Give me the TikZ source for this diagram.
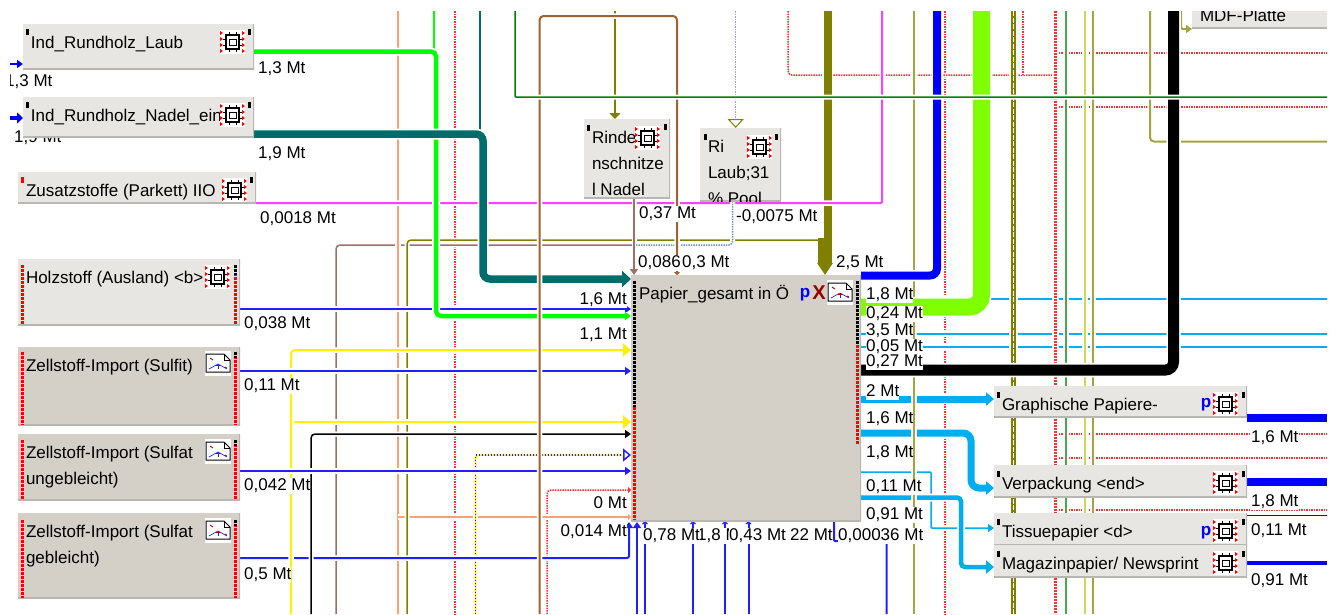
\documentclass[tikz,border=0pt]{standalone}
\usepackage{fontspec}
\setmainfont{Liberation Sans}
\usetikzlibrary{arrows.meta}

\pgfdeclarelayer{flows}
\pgfdeclarelayer{marks}
\pgfsetlayers{flows,marks,main}

\definecolor{boxlight}{HTML}{E8E6E2}
\definecolor{boxdark}{HTML}{D4D0C8}
\definecolor{boxedge}{HTML}{B8B6B0}
\definecolor{flowblue}{HTML}{2020FF}
\definecolor{floworange}{HTML}{FFA070}
\definecolor{flowrosy}{HTML}{A07068}
\definecolor{flowbrown}{HTML}{A0622D}
\definecolor{flowolive}{HTML}{808000}
\definecolor{flowsand}{HTML}{A4A440}
\definecolor{flowpale}{HTML}{D4D45A}
\definecolor{flowgrass}{HTML}{4CA64C}
\definecolor{flowdark}{HTML}{008000}
\definecolor{flowlime}{HTML}{80FF00}
\definecolor{flowpink}{HTML}{FF40FF}
\definecolor{flowred}{HTML}{FF3030}
\definecolor{flowslate}{HTML}{A0A0C8}

\newcommand{\boxtext}[3]{\parbox[c][#2pt][t]{#1pt}{\leftskip=8pt\baselineskip=26pt\vspace*{10.5pt}\strut#3}}

\tikzset{
    flow/.style={line width=#1, rounded corners=4pt, preaction={draw=white, solid, line width=#1+3.5pt, -}},
    reddot/.style={flow=1.5pt, draw=flowred, dash pattern=on 1.5pt off 1pt},
    headS/.style={-{Triangle[length=6pt,width=8pt]}},
    headXS/.style={-{Triangle[length=3pt,width=6pt]}},
    headM/.style={-{Triangle[length=8pt,width=13pt]}},
    headL/.style={-{Triangle[length=9pt,width=16pt]}},
    modelbox/.style={inner sep=0pt, outer sep=0pt, anchor=north west, fill=boxlight,
        path picture={\draw[boxedge, line width=3pt]
            (path picture bounding box.south west) -- (path picture bounding box.south east)
            -- (path picture bounding box.north east);}},
    graphbox/.style={modelbox, fill=boxdark},
    mt/.style={fill=white, inner sep=0pt, text height=12.5pt, text depth=3.5pt, yshift=-1.5pt},
    pinred/.style={draw=red, line width=3pt, dash pattern=on 3pt off 1pt},
    pinblack/.style={draw=black, line width=3pt, dash pattern=on 3pt off 1pt},
    chipicon/.pic={
        \fill[white] (0,0) rectangle (25,24);
        \foreach \y in {3,9,15,21} {
            \fill[red] (0,\y-2) -- (3,\y) -- (0,\y+2) -- cycle;
            \fill[red] (22,\y-2) -- (25,\y) -- (22,\y+2) -- cycle;
        }
        \draw[line width=1.2pt] (6,5) rectangle (19,19);
        \draw[line width=0.9pt] (9,9) rectangle (16,15);
        \foreach \x in {9,16} {
            \draw[line width=1pt] (\x,2) -- (\x,5);
            \draw[line width=1pt] (\x,19) -- (\x,22);
        }
        \foreach \y in {9,15} {
            \draw[line width=1pt] (3,\y) -- (6,\y);
            \draw[line width=1pt] (19,\y) -- (22,\y);
        }
    },
    graphicon/.pic={
        \fill[white] (0,0) rectangle (26,25);
        \draw[line width=1pt] (1,3) -- (19,3) -- (25,9) -- (25,21) -- (1,21) -- cycle;
        \draw[line width=0.7pt] (19,3) -- (19,9) -- (25,9);
        \draw[flowblue, line width=0.7pt] (4,18) -- (13,13) -- (22,18);
        \draw[flowblue, line width=0.7pt] (13,13) -- (13,18);
        \draw[red!70!black, line width=0.9pt] (5,7) -- (8,9);
        \draw[red!70!black, line width=0.9pt] (11,14) -- (15,14);
        \draw[red!70!black, line width=0.9pt] (20,16) -- (22,17);
    },
}

\begin{document}
\begin{tikzpicture}[x=1pt, y=-1pt, font=\fontsize{17}{20}\selectfont]
    \useasboundingbox (0,0) rectangle (1335,614);

    \coordinate (top) at (0,11);
    \coordinate (bottom) at (0,614);
    \coordinate (rim) at (1327,0);
    \coordinate (rimL) at (10,0);

    % Quellen
    \node[modelbox] (bLaub) at (23,24) {\boxtext{231}{45}{Ind\_Rundholz\_Laub}};
    \node[modelbox] (bNadel) at (23,97) {\boxtext{231}{40}{Ind\_Rundholz\_Nadel\_ein}};
    \node[modelbox] (bZusatz) at (18,172) {\boxtext{238}{31}{Zusatzstoffe (Parkett) IIO}};
    \node[modelbox] (bHolz) at (18,259) {\boxtext{222}{66}{Holzstoff (Ausland) <b>}};
    \node[graphbox] (bSulfit) at (18,347) {\boxtext{222}{78}{Zellstoff-Import (Sulfit)}};
    \node[graphbox] (bUngebl) at (18,434) {\boxtext{222}{66}{Zellstoff-Import (Sulfat\\ungebleicht)}};
    \node[graphbox] (bGebl) at (18,513) {\boxtext{222}{85}{Zellstoff-Import (Sulfat\\gebleicht)}};

    % Rinde
    \node[modelbox] (bRinde) at (584,119) {\boxtext{86}{79}{Rinde\\nschnitze\\l Nadel}};
    \begin{scope}
        \clip (700,128) rectangle (781,201);
        \node[modelbox] (bRi) at (700,128) {\boxtext{81}{73}{Ri\\Laub;31\\\% Pool}};
    \end{scope}

    % Papier
    \node[graphbox] (bPapier) at (631,275) {\boxtext{230}{246}{Papier\_gesamt in Ö}};
    \node[inner sep=0pt, text=blue] (pPapier) at (805,295) {\textbf{p}};
    \node[inner sep=0pt, text=red!60!black] (xPapier) at (819,293) {\fontsize{20}{20}\selectfont\textbf{X}};

    % Produkte
    \node[modelbox] (bGraph) at (994,386) {\boxtext{253}{31}{Graphische Papiere-}};
    \node[modelbox] (bVerp) at (994,465) {\boxtext{253}{32}{Verpackung <end>}};
    \node[modelbox] (bTissue) at (994,513) {\boxtext{253}{32}{Tissuepapier <d>}};
    \node[modelbox] (bMagazin) at (994,545) {\boxtext{253}{32}{Magazinpapier/ Newsprint}};
    \node[inner sep=0pt, text=blue] (pGraph) at (1206,405) {\textbf{p}};
    \node[inner sep=0pt, text=blue] (pTissue) at (1206,533) {\textbf{p}};
    \begin{scope}
        \clip (1185,11) rectangle (1327,30);
        \node[modelbox] (bMdf) at (1192,-3) {\boxtext{145}{31}{MDF-Platte}};
    \end{scope}

    % Icons
    \pic at (220,30) {chipicon};
    \pic at (220,103) {chipicon};
    \pic at (222,178) {chipicon};
    \pic at (205,265) {chipicon};
    \pic at (635,126) {chipicon};
    \pic at (747,135) {chipicon};
    \pic at (1213,392) {chipicon};
    \pic at (1213,471) {chipicon};
    \pic at (1213,519) {chipicon};
    \pic at (1213,551) {chipicon};
    \pic at (205,351) {graphicon};
    \pic at (205,439) {graphicon};
    \pic at (205,518) {graphicon};
    \pic at (827,280) {graphicon};

    % Pins
    \foreach \x/\y in {27/32,249/32,27/105,249/105,251/180,588/128,665/127,705/137,776/137,
            998/395,1243/395,998/474,1243/474,998/522,1243/522,998/554,1243/554} {
        \fill (\x-1.5,\y-3) rectangle (\x+1.5,\y+3);
    }
    \fill[red] (20.5,177) rectangle (24,183);
    \foreach \a/\b in {265/325,352/425,440/500,520/598} {
        \draw[pinred] (22.5,\a) -- (22.5,\b);
        \draw[pinred] (235,\a) -- (235,\b);
    }
    \draw[pinblack] (235,265) -- (235,275);
    \foreach \a in {352,440,520} {
        \draw[pinblack] (235,\a) -- (235,\a+6);
    }
    \draw[pinblack] (634,281) -- (634,407);
    \draw[pinred] (634,407) -- (634,520);
    \draw[pinblack] (857,281) -- (857,345);
    \draw[pinred] (857,345) -- (857,445);

    \begin{pgfonlayer}{flows}
        \fill[white] (0,0) rectangle (1335,614);

        % rot gepunktet
        \foreach \x in {455,945} {
            \draw[reddot] (\x,0 |- top) -- (\x,0 |- bottom);
        }
        \foreach \y in {53,107,434,458,510} {
            \draw[reddot] (1056,\y) -- (rim |- 0,\y);
        }
        \draw[reddot] (788,0 |- top) -- (788,75) -- (1056,75);
        \draw[reddot] (1023,0 |- top) -- (1023,75);
        \draw[reddot, headXS] (547,0 |- bottom) -- (547,490) -- (bPapier.west |- 0,490);

        % cyan rechts
        \foreach \y in {299,334,347} {
            \draw[flow=2pt, draw=cyan] (bPapier.east |- 0,\y) -- (rim |- 0,\y);
        }
        \draw[flow=7pt, draw=cyan, headM] (bPapier.east |- 0,399) -- (bGraph.west |- 0,399);
        \draw[flow=7pt, draw=cyan, headM, rounded corners=8pt] (bPapier.east |- 0,433) -- (971,433) -- (971,488) -- (bVerp.west |- 0,488);
        \draw[flow=1.5pt, draw=cyan, headS, rounded corners=1pt] (bPapier.east |- 0,472) -- (931,472) -- (931,528) -- (bTissue.west |- 0,528);
        \draw[flow=4.5pt, draw=cyan, headM] (bPapier.east |- 0,497.5) -- (961,497.5) -- (961,567) -- (bMagazin.west |- 0,567);

        % gerade senkrecht
        \draw[flow=5pt, draw=flowolive] (1013.5,0 |- top) -- (1013.5,0 |- bottom);
        \draw[draw=white, line width=1.5pt, dash pattern=on 5pt off 1.5pt] (1013.5,0 |- top) -- (1013.5,0 |- bottom);
        \draw[flow=3pt, draw=flowred, dash pattern=on 2pt off 1pt] (1055.5,0 |- top) -- (1055.5,0 |- bottom);
        \draw[flow=2pt, draw=flowgrass] (1066,0 |- top) -- (1066,0 |- bottom);
        \draw[flow=2pt, draw=flowpale] (1085,0 |- top) -- (1085,0 |- bottom);
        \draw[flow=2pt, draw=flowsand] (1093,0 |- top) -- (1093,0 |- bottom);
        \draw[flow=2pt, draw=flowsand] (914,0 |- top) -- (914,0 |- bottom);
        \draw[flow=2pt, draw=flowsand] (1150,0 |- top) -- (1150,141.5) -- (rim |- 0,141.5);
        \draw[flow=2pt, draw=flowsand, headS, rounded corners=2pt] (1181,0 |- top) -- (1181,29) -- (bMdf.west |- 0,29);

        % links unten
        \draw[flow=1.5pt, draw=flowrosy] (336,0 |- bottom) -- (336,245) -- (634,245);
        \draw[flow=2pt, draw=floworange] (398,0 |- top) -- (398,0 |- bottom);
        \draw[flow=2pt, draw=floworange, headXS] (398,517) -- (bPapier.west |- 0,517);
        \draw[flow=1.5pt, draw=flowolive] (407,0 |- bottom) -- (407,240) -- (820,240);
        \draw[flow=1.5pt, draw=yellow] (475.5,0 |- bottom) -- (475.5,455) -- (622,455);
        \draw[draw=flowblue, line width=1.5pt, dash pattern=on 1.5pt off 1.5pt, -{Triangle[open,length=8pt,width=13pt]}] (475.5,0 |- bottom) -- (475.5,455) -- (bPapier.west |- 0,455);

        % Olive dick
        \draw[flow=8pt, draw=flowolive] (827.5,0 |- top) -- (827.5,240);
        \draw[draw=flowolive, line width=14pt, -{Triangle[length=12pt,width=15pt]}] (825,238) -- (825,0 |- bPapier.north);

        % magenta
        \draw[flow=2pt, draw=flowpink, rounded corners=1pt] (bZusatz.east |- 0,203) -- (882,203) -- (882,0 |- top);

        % blau und gelb
        \draw[flow=2pt, draw=flowblue, headS, rounded corners=2pt] (bGebl.east |- 0,558) -- (629,558) -- (629,522);
        \draw[flow=2pt, draw=yellow, headM] (291,0 |- bottom) -- (291,350) -- (bPapier.west |- 0,350);
        \draw[flow=2pt, draw=yellow, headM] (294,422) -- (bPapier.west |- 0,422);
        \draw[flow=1.5pt, draw=black, headS] (311,0 |- bottom) -- (311,434) -- (bPapier.west |- 0,434);
        \draw[flow=2pt, draw=flowblue, headS] (bHolz.east |- 0,309) -- (bPapier.west |- 0,309);
        \draw[flow=2pt, draw=flowblue, headS] (bSulfit.east |- 0,371) -- (bPapier.west |- 0,371);
        \draw[flow=2pt, draw=flowblue, headS] (bUngebl.east |- 0,471) -- (bPapier.west |- 0,471);
        \foreach \x in {645,693,725,748.5} {
            \draw[flow=2pt, draw=flowblue, headXS] (\x,0 |- bottom) -- (\x,0 |- bPapier.south);
        }
        \draw[flow=2pt, draw=flowblue, headS] (637,0 |- bottom) -- (637,522);
        \draw[flow=2pt, draw=flowblue, rounded corners=1pt] (886.5,0 |- bottom) -- (886.5,541) -- (834,541) -- (834,0 |- bPapier.south);

        % Eingaenge links
        \draw[flow=2.5pt, draw=blue, headS] (rimL |- 0,64) -- (bLaub.west |- 0,64);
        \draw[flow=4pt, draw=blue, -{Triangle[length=6pt,width=11pt]}] (rimL |- 0,118) -- (bNadel.west |- 0,118);

        % Rundholz
        \draw[flow=1.5pt, draw=green] (434,0 |- top) -- (434,50);
        \draw[flow=4.5pt, draw=green, headS, rounded corners=5pt] (bLaub.east |- 0,51.5) -- (436,51.5) -- (436,316) -- (bPapier.west |- 0,316);
        \draw[flow=1.5pt, draw=teal!85!black] (480,0 |- top) -- (480,132);
        \draw[flow=7.5pt, draw=teal!85!black, headL, rounded corners=7pt] (bNadel.east |- 0,134) -- (483,134) -- (483,279) -- (bPapier.west |- 0,279);

        % Rinde
        \draw[flow=1.5pt, draw=flowolive, -{Triangle[length=6pt,width=11pt]}] (615,0 |- top) -- (615,0 |- bRinde.north);
        \draw[flow=1.5pt, draw=flowrosy, headS] (634,0 |- bRinde.south) -- (634,0 |- bPapier.north);
        \draw[flow=1.5pt, draw=flowslate, dash pattern=on 1.5pt off 1pt] (735.7,0 |- top) -- (735.7,120);
        \draw[draw=flowolive, line width=1pt, -{Triangle[open,length=9pt,width=16pt]}] (735.7,119) -- (735.7,0 |- bRi.north);
        \draw[flow=1.5pt, draw=flowslate!70!teal, dash pattern=on 1.5pt off 1pt] (732.7,0 |- bRi.south) -- (732.7,245) -- (636,245);
        \draw[flow=2pt, draw=flowbrown, headXS] (539.5,0 |- bottom) -- (539.5,16) -- (677,16) -- (677,0 |- bPapier.north);

        % dicke Leitungen
        \draw[flow=8pt, draw=blue, rounded corners=7pt] (937,0 |- top) -- (937,275.5) -- (bPapier.east |- 0,275.5);
        \draw[flow=17pt, draw=flowlime, rounded corners=12pt] (981.5,0 |- top) -- (981.5,307) -- (bPapier.east |- 0,307);
        \draw[flow=11pt, draw=black, rounded corners=8pt] (1173.5,0 |- top) -- (1173.5,370) -- (bPapier.east |- 0,370);

        % Ausgaenge
        \draw[flow=8pt, draw=blue] (bGraph.east |- 0,418) -- (rim |- 0,418);
        \draw[flow=8pt, draw=blue] (bVerp.east |- 0,482) -- (rim |- 0,482);
        \draw[flow=1.5pt, draw=blue] (bTissue.east |- 0,515.5) -- (rim |- 0,515.5);
        \draw[flow=4.5pt, draw=blue] (bMagazin.east |- 0,563) -- (rim |- 0,563);

        % gruen oben
        \draw[flow=1.5pt, draw=flowdark, rounded corners=1pt] (515,0 |- top) -- (515,97) -- (rim |- 0,97);
    \end{pgfonlayer}

    \begin{pgfonlayer}{marks}
        \begin{scope}
            \clip (10,60) rectangle (100,100);
            \node[mt, anchor=west] (mRand) at (5,80) {1,3 Mt};
        \end{scope}
        \node[mt, anchor=west] (mRandB) at (14,136) {1,9 Mt};
        \node[mt, anchor=west] (mLaub) at (258,67) {1,3 Mt};
        \node[mt, anchor=west] (mNadel) at (258,152) {1,9 Mt};
        \node[mt, anchor=west] (mZusatz) at (260,217) {0,0018 Mt};
        \node[mt, anchor=west] (mHolz) at (244,322) {0,038 Mt};
        \node[mt, anchor=west] (mSulfit) at (244,384) {0,11 Mt};
        \node[mt, anchor=west] (mUngebl) at (244,484) {0,042 Mt};
        \node[mt, anchor=west] (mGebl) at (244,573) {0,5 Mt};
        \node[mt, anchor=east] (mInA) at (627,298) {1,6 Mt};
        \node[mt, anchor=east] (mInB) at (627,333) {1,1 Mt};
        \node[mt, anchor=east] (mInC) at (627,502) {0 Mt};
        \node[mt, anchor=east] (mInD) at (627,530) {0,014 Mt};
        \node[mt, anchor=west] (mRinde) at (639,212) {0,37 Mt};
        \node[mt, anchor=west] (mRi) at (736,215) {-0,0075 Mt};
        \node[mt, anchor=west] (mTopA) at (638,261) {0,086};
        \node[mt, anchor=west] (mTopB) at (682,261) {0,3 Mt};
        \node[mt, anchor=west] (mTopC) at (836,261) {2,5 Mt};
        \node[mt, anchor=west] (mOutA) at (866,293) {1,8 Mt};
        \node[mt, anchor=west] (mOutB) at (866,312) {0,24 Mt};
        \node[mt, anchor=west] (mOutC) at (866,329) {3,5 Mt};
        \node[mt, anchor=west] (mOutD) at (866,345) {0,05 Mt};
        \node[mt, anchor=west] (mOutE) at (866,360) {0,27 Mt};
        \node[mt, anchor=west] (mOutF) at (866,390) {2 Mt};
        \node[mt, anchor=west] (mOutG) at (866,417) {1,6 Mt};
        \node[mt, anchor=west] (mOutH) at (866,451) {1,8 Mt};
        \node[mt, anchor=west] (mOutI) at (866,485) {0,11 Mt};
        \node[mt, anchor=west] (mOutJ) at (866,513) {0,91 Mt};
        \node[mt, anchor=west] (mBotA) at (697,534) {1,8 Mt};
        \node[mt, anchor=west] (mBotB) at (643,534) {0,78 Mt};
        \node[mt, anchor=west] (mBotC) at (790,534) {22 Mt};
        \node[mt, anchor=west] (mBotD) at (729,534) {0,43 Mt};
        \node[mt, anchor=west] (mBotE) at (838,534) {0,00036 Mt};
        \node[mt, anchor=west] (mEndA) at (1251,436) {1,6 Mt};
        \node[mt, anchor=west] (mEndB) at (1251,500) {1,8 Mt};
        \node[mt, anchor=west] (mEndC) at (1251,529) {0,11 Mt};
        \node[mt, anchor=west] (mEndD) at (1251,579) {0,91 Mt};
    \end{pgfonlayer}
\end{tikzpicture}
\end{document}
